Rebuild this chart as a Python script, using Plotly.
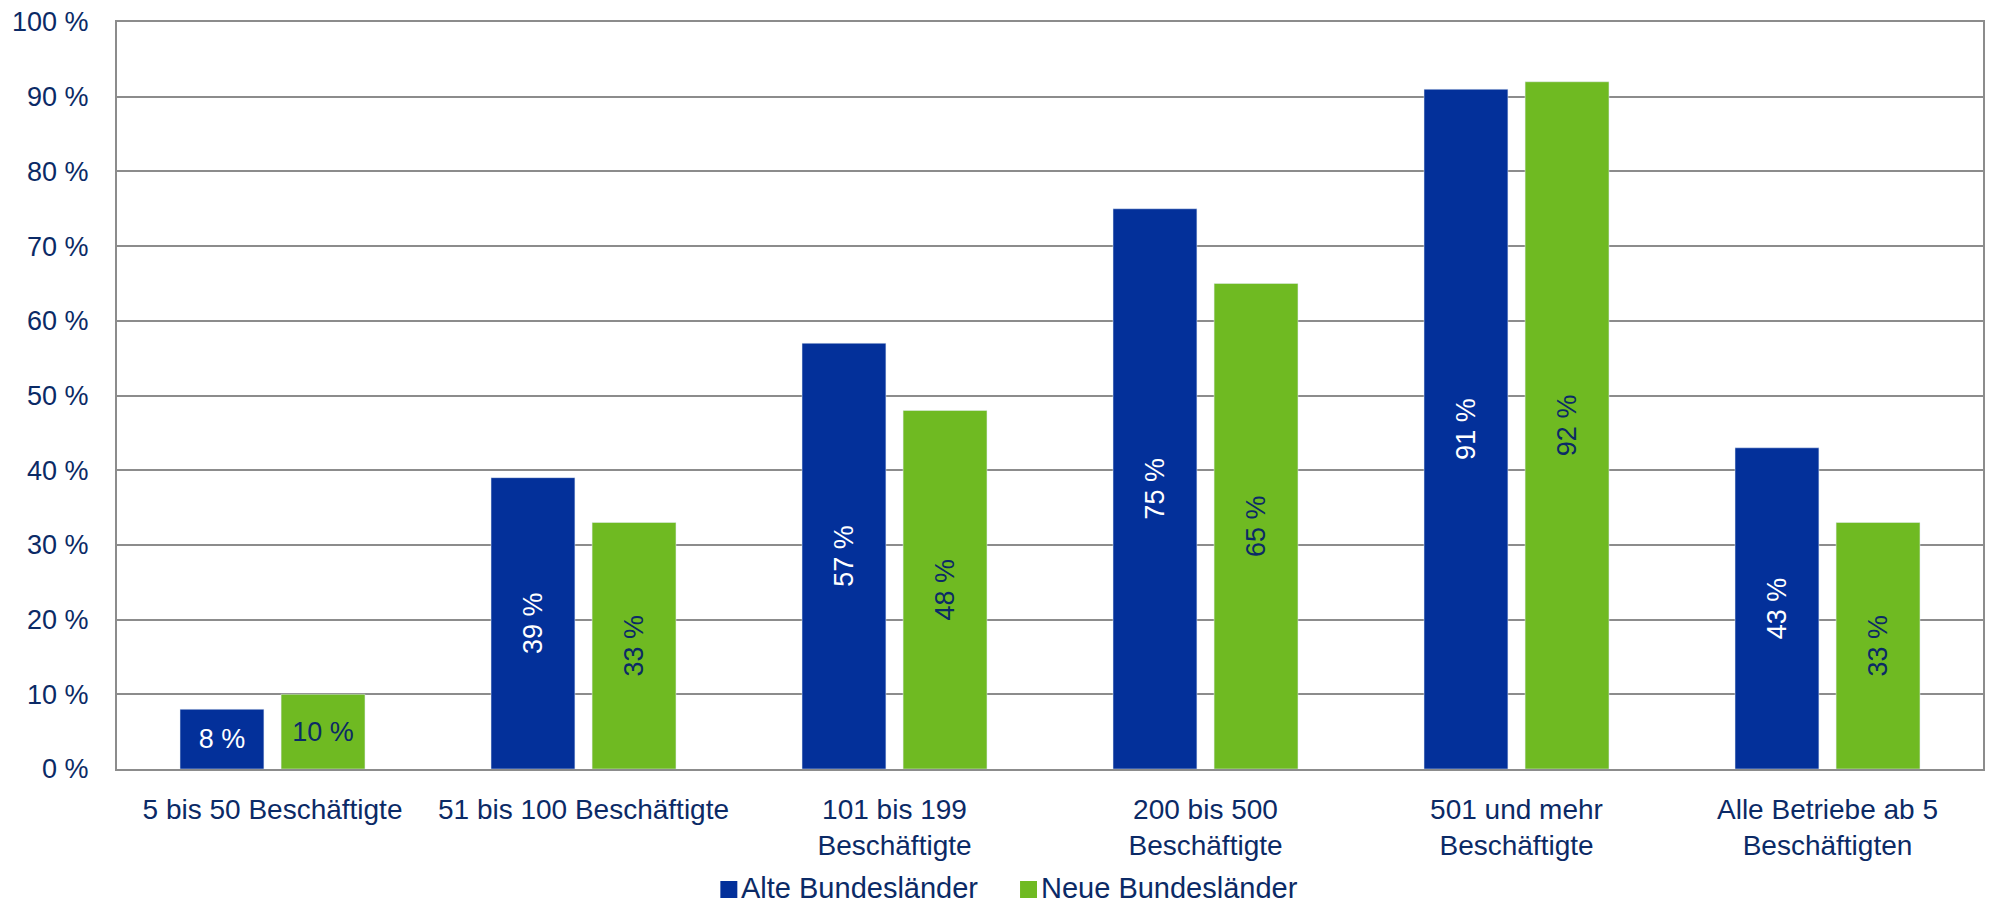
import plotly.graph_objects as go

# Anteil der Betriebe nach Betriebsgröße
kategorien = [
    "5 bis 50 Beschäftigte",
    "51 bis 100 Beschäftigte",
    "101 bis 199<br>Beschäftigte",
    "200 bis 500<br>Beschäftigte",
    "501 und mehr<br>Beschäftigte",
    "Alle Betriebe ab 5<br>Beschäftigten",
]
serien = ["Alte Bundesländer", "Neue Bundesländer"]
alte_bundeslaender = [8, 39, 57, 75, 91, 43]
neue_bundeslaender = [10, 33, 48, 65, 92, 33]
y_ticks = [0, 10, 20, 30, 40, 50, 60, 70, 80, 90, 100]
y_tick_labels = [f"{v} %" for v in y_ticks]

BLAU = "#03309A"
GRUEN = "#6FBA22"
NAVY = "#0B2A66"
GRAU = "#8C8C8C"
FONT = "Liberation Sans, Arial, sans-serif"

# plot area in pixels (used to place the hand-drawn legend)
W, H = 1989, 906
ML, MR, MT, MB = 117, 4, 22, 137
PW, PH = W - ML - MR, H - MT - MB

fig = go.Figure()


def add_series(name, values, color, text_color, group):
    # first category: short bars with horizontal labels
    fig.add_trace(go.Bar(
        name=name, x=kategorien[:1], y=values[:1], marker_color=color,
        offsetgroup=group, showlegend=False,
        text=[f"{v} %" for v in values[:1]], textposition="inside",
        insidetextanchor="middle", textangle=0, constraintext="none",
        textfont=dict(color=text_color, size=27, family=FONT),
        hoverinfo="skip",
    ))
    # remaining categories: labels rotated along the bar
    fig.add_trace(go.Bar(
        name=name, x=kategorien[1:], y=values[1:], marker_color=color,
        offsetgroup=group, showlegend=False,
        text=[f"{v} %" for v in values[1:]], textposition="inside",
        insidetextanchor="middle", textangle=-90, constraintext="none",
        textfont=dict(color=text_color, size=27, family=FONT),
        hoverinfo="skip",
    ))


add_series(serien[0], alte_bundeslaender, BLAU, "white", "alt")
add_series(serien[1], neue_bundeslaender, GRUEN, NAVY, "neu")


def px_x(x):
    return (x - ML) / PW


def px_y(y):
    return (H - MB - y) / PH


# legend: coloured square followed by the series name
legend_items = [(serien[0], BLAU, 721), (serien[1], GRUEN, 1021)]
shapes, annotations = [], []
for name, color, x0 in legend_items:
    shapes.append(dict(
        type="rect", xref="paper", yref="paper",
        x0=px_x(x0), x1=px_x(x0 + 17), y0=px_y(898), y1=px_y(881),
        fillcolor=color, line=dict(width=0),
    ))
    annotations.append(dict(
        xref="paper", yref="paper", x=px_x(x0 + 20), y=px_y(905),
        xanchor="left", yanchor="bottom", showarrow=False, text=name,
        font=dict(size=29, color=NAVY, family=FONT), borderpad=0,
    ))

fig.update_layout(
    width=W, height=H,
    margin=dict(l=ML, r=MR, t=MT, b=MB),
    paper_bgcolor="white", plot_bgcolor="white",
    barmode="group", bargap=0.35, bargroupgap=0.17,
    font=dict(family=FONT, color=NAVY, size=27),
    showlegend=False,
    shapes=shapes, annotations=annotations,
)

fig.update_xaxes(
    type="category", showline=True, mirror=True, linecolor=GRAU, linewidth=2,
    showgrid=False, ticks="", tickfont=dict(size=28, color=NAVY, family=FONT),
    ticklabelstandoff=14, tickangle=0,
)
fig.update_yaxes(
    range=[0, 100], tickvals=y_ticks, ticktext=y_tick_labels,
    showline=True, mirror=True, linecolor=GRAU, linewidth=2,
    showgrid=True, gridcolor=GRAU, gridwidth=1.5, zeroline=False,
    ticks="", tickfont=dict(size=27, color=NAVY, family=FONT),
    ticklabelstandoff=21,
)

fig.write_html("out.html")
